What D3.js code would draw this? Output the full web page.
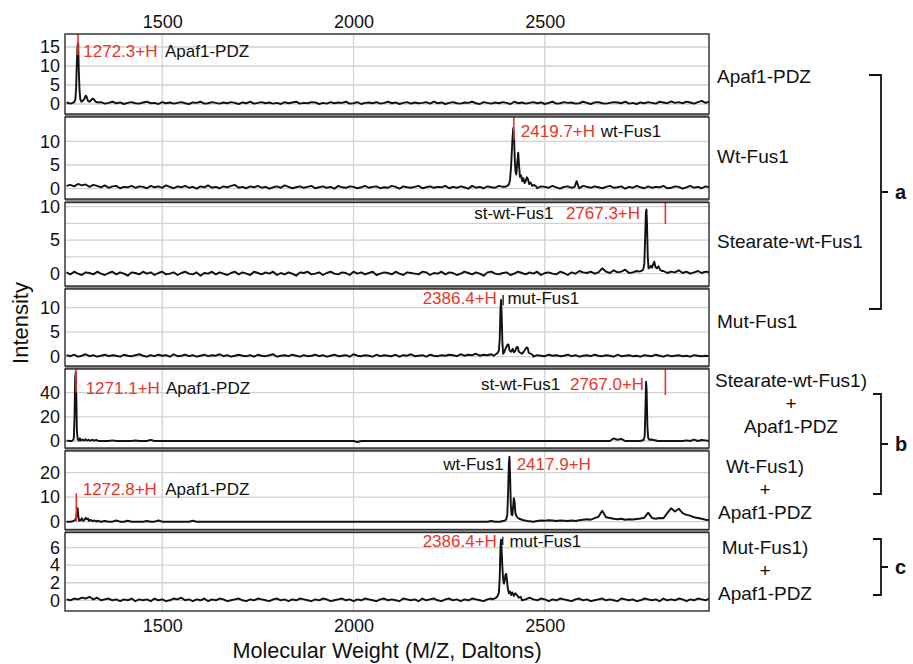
<!DOCTYPE html>
<html><head><meta charset="utf-8">
<script src="https://cdn.jsdelivr.net/npm/d3@7"></script>
<style>
body{margin:0;background:#fff;}
svg{display:block;font-family:"Liberation Sans",Arial,Helvetica,sans-serif;}
</style>
</head><body>
<svg id="c" width="913" height="664"></svg>
<script>
// ---------------- DATA ----------------
const xTicks = [1500, 2000, 2500];
const mzStart = 1250, mzStep = 10; // baseline sampling grid (Da)

const sampleLabels = [
  ["Apaf1-PDZ"], ["Wt-Fus1"], ["Stearate-wt-Fus1"], ["Mut-Fus1"],
  ["Stearate-wt-Fus1)", "+", "Apaf1-PDZ"],
  ["Wt-Fus1)", "+", "Apaf1-PDZ"],
  ["Mut-Fus1)", "+", "Apaf1-PDZ"]
];
const groupLabels = ["a", "b", "c"];

const yTickVals = [[0,5,10,15],[0,5,10],[0,5,10],[0,5,10],[0,20,40],[0,10,20],[0,2,4,6]];
const yGridVals = [[0,5,10,15],[0,5,10],[0,2.5,5,7.5,10],[0,5,10],[0,20,40],[0,10,20],[0,2,4,6]];

// baseline noise, one value per 10 Da from 1250
const noise1 = [0.4,0.1,0.5,0.2,0.6,0.3,0.1,0.4,0.2,0.5,0.1,0.3,0.6,0.2,0.4,0.0,0.3,0.5,0.2,0.1,0.4,0.6,0.2,0.3,0.0,0.5,0.2,0.4,0.1,0.3,0.5,0.2,0.0,0.4,0.3,0.6,0.1,0.2,0.5,0.3,0.1,0.4,0.2,0.5,0.3,0.0,0.4,0.2,0.6,0.1,0.3,0.5,0.2,0.4,0.1,0.3,0.0,0.5,0.2,0.4,0.6,0.1,0.3,0.2,0.5,0.4,0.0,0.3,0.1,0.5,0.2,0.4,0.3,0.6,0.1,0.2,0.5,0.0,0.3,0.4,0.2,0.5,0.1,0.3,0.6,0.2,0.4,0.0,0.3,0.5,0.1,0.4,0.2,0.3,0.5,0.1,0.6,0.2,0.4,0.0,0.3,0.5,0.2,0.1,0.4,0.3,0.6,0.2,0.0,0.5,0.3,0.1,0.4,0.2,0.5,0.3,0.0,0.6,0.2,0.4,0.1,0.3,0.5,0.2,0.4,0.0,0.3,0.6,0.1,0.2,0.5,0.3,0.4,0.1,0.2,0.6,0.3,0.0,0.4,0.5,0.2,0.1,0.3,0.5,0.4,0.2,0.6,0.1,0.3,0.0,0.4,0.2,0.5,0.3,0.1,0.6,0.4,0.2,0.7,0.3,0.5,0.2,0.6,0.4,0.1,0.5,0.8,0.3,0.6];
const noise2 = [0.6,0.8,0.5,1.0,0.7,0.9,0.4,0.8,0.6,0.3,0.7,0.2,0.5,0.6,0.1,0.4,0.3,0.6,0.2,0.5,0.4,0.1,0.6,0.3,0.5,0.2,0.7,0.4,0.1,0.5,0.3,0.6,0.2,0.4,0.0,0.5,0.3,0.7,0.2,0.4,0.1,0.5,0.3,0.6,0.8,0.2,0.4,0.1,0.5,0.3,0.6,0.2,0.4,0.0,0.3,0.5,0.2,0.7,0.4,0.1,0.3,0.5,0.2,0.4,0.6,0.1,0.3,0.5,0.2,0.4,0.0,0.6,0.3,0.2,0.5,0.4,0.1,0.3,0.6,0.2,0.4,0.5,0.1,0.3,0.2,0.6,0.4,0.0,0.5,0.3,0.2,0.4,0.6,0.1,0.3,0.5,0.2,0.4,0.3,0.6,0.1,0.4,0.2,0.5,0.3,0.0,0.6,0.2,0.4,0.1,0.5,0.3,0.2,0.6,0.4,0.1,0.3,0.5,0.2,0.4,0.6,0.2,0.3,0.1,0.5,0.4,0.2,0.6,0.3,0.0,0.4,0.5,0.2,0.3,0.1,0.6,0.4,0.2,0.5,0.3,0.1,0.4,0.6,0.2,0.3,0.5,0.0,0.4,0.2,0.6,0.3,0.1,0.5,0.2,0.4,0.3,0.6,0.1,0.2,0.5,0.4,0.0,0.3,0.6,0.2,0.4,0.1,0.5,0.3];
const noise3 = [0.2,-0.1,0.3,0.0,-0.2,0.2,0.1,-0.1,0.3,0.0,-0.2,0.1,0.3,-0.1,0.2,0.0,-0.3,0.2,0.1,-0.1,0.3,0.0,0.2,-0.2,0.1,0.3,-0.1,0.0,0.2,-0.2,0.1,0.3,0.0,-0.1,0.2,-0.3,0.1,0.0,0.3,-0.1,0.2,0.0,-0.2,0.1,0.3,-0.1,0.2,0.0,-0.2,0.3,0.1,-0.1,0.2,0.0,0.3,-0.2,0.1,-0.1,0.2,0.0,-0.3,0.2,0.1,0.3,-0.1,0.0,0.2,-0.2,0.1,0.3,0.0,-0.1,0.2,0.1,-0.2,0.3,0.0,0.2,-0.1,0.1,0.3,-0.2,0.0,0.2,0.1,-0.1,0.3,0.0,-0.2,0.2,0.1,0.0,-0.1,0.3,0.2,-0.2,0.1,0.0,0.3,-0.1,0.2,0.1,-0.2,0.0,0.3,0.1,-0.1,0.2,0.0,-0.3,0.2,0.3,0.0,-0.1,0.1,0.2,-0.2,0.0,0.3,0.1,-0.1,0.2,0.0,0.3,-0.2,0.1,0.2,0.0,-0.1,0.3,0.1,-0.2,0.2,0.0,0.4,0.2,0.1,0.3,0.0,0.2,0.8,0.3,0.1,0.5,0.2,0.3,0.6,0.1,0.2,0.4,0.3,0.2,0.5,0.1,0.3,0.2,0.4,0.1,0.3,0.2,0.5,0.1,0.3,0.0,0.2,0.4,0.1,0.3,0.2];
const noise4 = [0.3,0.1,0.4,0.0,0.2,0.5,0.1,0.3,0.0,0.2,0.4,0.1,0.3,0.2,0.0,0.4,0.2,0.1,0.3,0.5,0.2,0.0,0.3,0.1,0.4,0.2,0.3,0.0,0.5,0.1,0.2,0.4,0.1,0.3,0.0,0.2,0.4,0.1,0.3,0.2,0.5,0.1,0.3,0.0,0.2,0.4,0.2,0.1,0.3,0.0,0.4,0.2,0.1,0.3,0.5,0.0,0.2,0.3,0.1,0.4,0.2,0.0,0.3,0.1,0.2,0.4,0.1,0.3,0.0,0.2,0.4,0.1,0.2,0.3,0.0,0.5,0.2,0.1,0.3,0.2,0.0,0.4,0.1,0.3,0.2,0.1,0.4,0.0,0.3,0.2,0.5,0.1,0.2,0.3,0.0,0.4,0.2,0.1,0.3,0.2,0.4,0.3,0.1,0.5,0.2,0.4,0.3,0.6,0.2,0.4,0.3,0.5,0.2,0.4,0.1,0.3,0.2,0.5,0.1,0.3,0.2,0.4,0.0,0.3,0.2,0.1,0.4,0.2,0.3,0.1,0.2,0.4,0.1,0.3,0.0,0.2,0.3,0.1,0.4,0.2,0.1,0.3,0.2,0.0,0.4,0.1,0.2,0.3,0.1,0.2,0.0,0.3,0.2,0.1,0.4,0.2,0.0,0.3,0.1,0.2,0.3,0.1,0.2,0.0,0.3,0.2,0.1,0.2,0.1];
const noise5 = [0.3,0,0,0.5,0,0,0,0.3,0,0,0,0,0.5,0,0,0,0,0,0.4,0,0,0,1.0,0,0,0,0,0,0,0,0,0,0,0,0,0,0,0,0,0,0,0,0,0,0,0,0,0,0,0,0,0,0,0,0,0,0,0,0,0,0,0,0,0,0,0,0,0,0,0,0,0,0,0,0,0,-0.8,0,0,0,0,0,0,0,0,0,0,0,0,0,0,0,0,0,0,0,0,0,0,0,0,0,0,0,0,0,0,0,0,0,0,0,0,0,0,0,0,0,0,0,0,0,0,0,0,0,0,0,0,0,0,0,0,0,0,0,0,0,0,0,0,0,0,2.2,1.0,1.8,0,0,0,0,0,0,0,0,0,0,0,0,0,0,0,0,0.5,0,1.2,0,0.8,0.5,0,0,0];
const noise6 = [0,0,0,0,0,0,0,0,0.4,0,0.3,0,0,0.5,0,0,0.4,0,0,0,0,0.3,0,0,0.5,0,0,0,0,0,0,0,0,0.4,0,0,0,0,0,0,0,0,0,0,0,0,0,0,0,0,0,0,0,0,0,0,0,0,0,0,0,0,0,0,0,0,0,0,0,0,0,0,0,0,0,0,0,0,0,0,0,0,0,0,0,0,0,0,0,0,0,0,0,0,0,0,0,0,0,0,0,0,0,0,0,0,0,0,0,0,0,0.3,0,0,0,0,0,0,0,0,0,0,0,0.3,0.5,0.4,0.6,0.5,0.3,0.5,0.4,0.3,0.5,0.3,0.6,0.8,1.0,0.8,1.5,2.0,4.5,1.8,1.5,1.2,1.0,1.2,0.8,1.0,0.9,1.1,1.3,1.6,3.7,1.5,1.2,1.5,1.4,3.5,5.5,4.2,5.3,3.5,2.8,2.5,1.8,1.5,1.2,0.8,0.6];
const noise7 = [0.1,0.0,0.2,0.1,0.3,0.2,0.4,0.1,0.3,0.0,0.1,0.2,0.0,0.1,-0.1,0.1,0.0,0.2,-0.1,0.1,0.0,0.1,-0.1,0.2,0.0,0.1,-0.1,0.0,0.2,0.1,0.3,0.0,0.1,-0.1,0.1,0.0,0.2,-0.1,0.1,0.0,0.2,0.1,-0.1,0.0,0.1,0.2,0.0,-0.1,0.1,0.0,0.2,0.1,0.0,-0.1,0.1,0.2,0.0,0.1,-0.1,0.1,0.0,0.2,0.1,0.0,-0.1,0.1,0.0,0.2,0.1,-0.1,0.0,0.1,0.2,0.0,0.1,-0.1,0.1,0.0,0.2,0.1,0.0,-0.1,0.1,0.2,0.0,0.1,0.0,-0.1,0.2,0.1,0.0,0.1,-0.1,0.2,0.0,0.1,0.2,0.0,-0.1,0.1,0.2,0.0,0.1,-0.1,0.1,0.0,0.2,0.1,0.0,-0.1,0.1,0.2,0.0,0.1,0.2,0.0,0.1,-0.1,0.2,0.0,0.1,0.3,0.1,0.0,0.2,0.1,-0.1,0.1,0.0,0.2,0.1,0.0,-0.1,0.1,0.2,0.0,0.1,-0.1,0.0,0.1,0.2,0.0,0.1,0.0,-0.1,0.2,0.1,0.0,0.1,-0.1,0.0,0.2,0.1,0.0,0.1,-0.1,0.2,0.0,0.1,0.0,0.2,0.1,-0.1,0.1,0.0,0.2,0.1,0.0,0.2];

// peak clusters [m/z, intensity]
const peaks1 = [
  [[1266,0.3],[1270,0.5],[1273,1.2],[1275,4],[1277,11],[1279,15.5],[1280.5,16],[1282,9],[1284,3.5],[1286,1.2],[1289,0.6],[1293,0.9],[1297,1.4],[1300,2.2],[1303,1.8],[1306,0.8],[1310,0.6],[1314,1.0],[1318,1.4],[1322,1.2],[1326,0.6],[1331,0.4]]
];
const peaks2 = [
  [[2396,0.4],[2402,0.6],[2406,0.9],[2409,1.8],[2412,5],[2415,10],[2417.5,12.8],[2419.5,11],[2421.5,6],[2423.5,3.5],[2425.5,3.0],[2428,5.5],[2430.5,7.6],[2432.5,5],[2435,2.5],[2438,2.8],[2441,1.6],[2444,2.2],[2447,1.2],[2450,1.6],[2453,2.4],[2456,2.0],[2459,1.0],[2463,1.3],[2467,0.6],[2472,0.8],[2477,0.5]],
  [[2578,0.4],[2583,1.6],[2588,0.4]]
];
const peaks3 = [
  [[2745,0.3],[2752,0.4],[2757,0.6],[2760,1.5],[2762,5],[2764,9.2],[2765.5,9.6],[2767,7.5],[2769,2.5],[2771,0.8],[2774,0.9],[2777,1.2],[2780,0.9],[2783,1.4],[2786,1.8],[2789,1.0],[2793,0.8],[2797,1.1],[2801,0.6],[2806,0.4]]
];
const peaks4 = [
  [[2366,0.2],[2372,0.5],[2377,0.8],[2380,1.3],[2382,3.5],[2384,9.5],[2385.5,11.6],[2387,9],[2389,3],[2391,0.6],[2394,0.9],[2398,1.8],[2402,2.4],[2405,2.5],[2408,1.2],[2412,1.0],[2416,1.6],[2419,0.9],[2422,1.1],[2426,1.9],[2429,2.0],[2432,1.0],[2436,0.8],[2440,0.6],[2444,0.9],[2448,1.4],[2452,1.9],[2455,1.8],[2458,0.8],[2463,0.6],[2468,0.4]]
];
const peaks5 = [
  [[1262,0],[1266,0.3],[1269,2],[1271,20],[1272.5,52],[1274,57],[1275.5,38],[1277,9],[1279,1.5],[1282,0.3],[1285,2.2],[1288,0.4],[1292,1.2],[1296,0.3],[1300,1.4],[1304,0.3],[1308,1.0],[1312,0.2],[1318,1.1],[1322,0.2],[1328,0.9],[1333,0]],
  [[2748,0],[2754,0.4],[2758,0.8],[2761,4],[2763,28],[2764.5,49],[2766,42],[2768,12],[2770,2.5],[2773,1.0],[2778,1.2],[2784,0.8],[2790,0.4],[2796,0]]
];
const peaks6 = [
  [[1262,0],[1268,0.3],[1272,0.6],[1275,1.5],[1277,4],[1279,5.5],[1281,2],[1283,0.4],[1287,0.6],[1290,1.4],[1293,0.3],[1297,0.8],[1300,1.6],[1303,1.0],[1306,1.3],[1309,0.3],[1313,0.8],[1318,0.2],[1323,0.5],[1328,0]],
  [[2383,0],[2390,0.3],[2395,0.4],[2399,0.9],[2402,3],[2404,12],[2406,24],[2407.5,26.5],[2409,20],[2411,7],[2413,3],[2415,2.6],[2417,6],[2419,9.6],[2421,8],[2423,3.5],[2426,2.2],[2429,1.6],[2433,1.2],[2437,1.0],[2442,0.7],[2448,0.5],[2455,0.3],[2462,0.2],[2468,0]]
];
const peaks7 = [
  [[2362,0.1],[2368,0.2],[2373,0.3],[2377,0.5],[2380,0.9],[2382,2.5],[2384,6.0],[2385.5,6.9],[2387,5.8],[2389,3.8],[2391,2.4],[2393,1.9],[2395,2.2],[2397,2.9],[2399,3.0],[2401,2.3],[2403,1.4],[2406,0.8],[2409,1.0],[2412,0.6],[2415,0.9],[2419,0.5],[2423,0.8],[2427,0.6],[2432,0.3],[2437,0.4]]
];

const noises = [noise1, noise2, noise3, noise4, noise5, noise6, noise7];
const peaks  = [peaks1, peaks2, peaks3, peaks4, peaks5, peaks6, peaks7];

// peak markers: panel, m/z, intensity from, to, colour key
const markers = [
  [0, 1280, 18.4, 12.9, "r"],
  [1, 2419, 15.1, 10.3, "r"],
  [2, 2815, 10.6, 7.4, "r"],
  [3, 2391, 12.6, 10.5, "k"],
  [4, 1274.7, 59.5, 40, "r"],
  [4, 2815, 59.5, 38, "r"],
  [5, 1275.5, 11.6, 0, "r"],
  [6, 2390, 7.25, 6.3, "k"]
];
// annotations: panel, text, m/z, intensity, colour key, anchor
const annotations = [
  [0, "1272.3+H", 1293.8, 12.3, "r", "start"],
  [0, "Apaf1-PDZ", 1507.3, 12.3, "k", "start"],
  [1, "2419.7+H", 2437.3, 11.0, "r", "start"],
  [1, "wt-Fus1", 2646.3, 11.0, "k", "start"],
  [2, "st-wt-Fus1", 2315.5, 8.1, "k", "start"],
  [2, "2767.3+H", 2555, 8.1, "r", "start"],
  [3, "2386.4+H", 2374.6, 10.7, "r", "end"],
  [3, "mut-Fus1", 2402.3, 10.7, "k", "start"],
  [4, "1271.1+H", 1300, 38.8, "r", "start"],
  [4, "Apaf1-PDZ", 1509.9, 38.8, "k", "start"],
  [4, "st-wt-Fus1", 2333, 42.1, "k", "start"],
  [4, "2767.0+H", 2565.6, 42.1, "r", "start"],
  [5, "wt-Fus1", 2234.5, 21.1, "k", "start"],
  [5, "2417.9+H", 2426.3, 21.1, "r", "start"],
  [5, "1272.8+H", 1292.2, 10.9, "r", "start"],
  [5, "Apaf1-PDZ", 1508, 10.9, "k", "start"],
  [6, "2386.4+H", 2374.6, 6.05, "r", "end"],
  [6, "mut-Fus1", 2407.5, 6.05, "k", "start"]
];

// ---------------- LAYOUT ----------------
const RED = "#e8352b", INK = "#111";
const colour = k => k === "r" ? RED : INK;
const plotL = 65, plotR = 709;
const panels = [
  {top:34,    bottom:114,   dom:[-2.63, 18.42]},
  {top:117,   bottom:199,   dom:[-2.17, 15.13]},
  {top:202.5, bottom:286,   dom:[-1.84, 10.63]},
  {top:289,   bottom:366,   dom:[-1.90, 13.82]},
  {top:369,   bottom:448,   dom:[-5.79, 59.5]},
  {top:451,   bottom:529.5, dom:[-3.18, 28.86]},
  {top:532.5, bottom:611,   dom:[-1.22, 7.73]}
];
const singleBaselines = [83, 162.7, 248.3, 328.3];
const multiLayout = {4:{cx:791, y0:386.7}, 5:{cx:765, y0:473.3}, 6:{cx:765, y0:554.3}};
const brackets = [
  {top:75, bottom:309, mid:192, left:869},
  {top:394, bottom:494, mid:444, left:873},
  {top:539, bottom:595, mid:567, left:873}
];

const svg = d3.select("#c");
const x = d3.scaleLinear().domain([1246, 2929]).range([plotL, plotR]);

// separator band behind panels
svg.append("rect").attr("x", plotL).attr("y", panels[0].top)
  .attr("width", plotR - plotL).attr("height", panels[6].bottom - panels[0].top)
  .attr("fill", "#8c8c8c");

const line = (y) => d3.line().x(d => x(d[0])).y(d => y(d[1]));

panels.forEach((p, i) => {
  const y = d3.scaleLinear().domain(p.dom).range([p.bottom, p.top]);
  const g = svg.append("g");
  g.append("rect").attr("x", plotL).attr("y", p.top).attr("width", plotR - plotL)
    .attr("height", p.bottom - p.top).attr("fill", "#fff");

  const cid = "clip" + i;
  svg.append("clipPath").attr("id", cid).append("rect")
    .attr("x", plotL).attr("y", p.top).attr("width", plotR - plotL).attr("height", p.bottom - p.top);

  // grid
  g.selectAll(".hg").data(yGridVals[i]).join("line")
    .attr("x1", plotL).attr("x2", plotR).attr("y1", d => y(d)).attr("y2", d => y(d))
    .attr("stroke", "#d2d2d2").attr("stroke-width", 1.3);
  g.selectAll(".vg").data(xTicks).join("line")
    .attr("x1", d => x(d)).attr("x2", d => x(d)).attr("y1", p.top).attr("y2", p.bottom)
    .attr("stroke", "#d2d2d2").attr("stroke-width", 1.3);

  // series
  const clusters = peaks[i];
  const base = noises[i].map((v, k) => [mzStart + k * mzStep, v])
    .filter(([m]) => !clusters.some(c => m >= c[0][0] && m <= c[c.length - 1][0]));
  const pts = base.concat(...clusters).sort((a, b) => a[0] - b[0]);
  g.append("path").datum(pts).attr("clip-path", `url(#${cid})`)
    .attr("d", line(y)).attr("fill", "none").attr("stroke", INK)
    .attr("stroke-width", 1.9).attr("stroke-linejoin", "round");

  // markers
  markers.filter(m => m[0] === i).forEach(m => {
    g.append("line").attr("x1", x(m[1])).attr("x2", x(m[1]))
      .attr("y1", y(m[2])).attr("y2", y(m[3]))
      .attr("stroke", colour(m[4])).attr("stroke-width", m[4] === "r" ? 1.6 : 1.3);
  });

  // annotations
  annotations.filter(a => a[0] === i).forEach(a => {
    g.append("text").attr("x", x(a[2])).attr("y", y(a[3]))
      .attr("text-anchor", a[5]).attr("fill", colour(a[4]))
      .attr("font-size", 17).text(a[1]);
  });

  // border
  g.append("rect").attr("x", plotL).attr("y", p.top).attr("width", plotR - plotL)
    .attr("height", p.bottom - p.top).attr("fill", "none")
    .attr("stroke", "#2a2a2a").attr("stroke-width", 1.4);

  // y axis
  const ax = g.append("g").attr("transform", `translate(${plotL},0)`)
    .call(d3.axisLeft(y).tickValues(yTickVals[i]).tickSize(0).tickPadding(5).tickFormat(d3.format("d")));
  ax.select(".domain").remove();
  ax.selectAll("text").attr("font-size", 18).attr("fill", INK)
    .attr("font-family", '"Liberation Sans",Arial,sans-serif');

  // sample labels
  const lab = sampleLabels[i];
  if (lab.length === 1) {
    svg.append("text").attr("x", 717).attr("y", singleBaselines[i])
      .attr("font-size", 19).attr("fill", INK).text(lab[0]);
  } else {
    const L = multiLayout[i];
    lab.forEach((t, k) => {
      svg.append("text").attr("x", L.cx).attr("y", L.y0 + k * 23)
        .attr("text-anchor", "middle").attr("font-size", 19).attr("fill", INK).text(t);
    });
  }
});

// x axes (top and bottom)
const topAx = svg.append("g").attr("transform", `translate(0,${panels[0].top})`)
  .call(d3.axisTop(x).tickValues(xTicks).tickSize(0).tickPadding(6).tickFormat(d3.format("d")));
const botAx = svg.append("g").attr("transform", `translate(0,${panels[6].bottom})`)
  .call(d3.axisBottom(x).tickValues(xTicks).tickSize(0).tickPadding(8).tickFormat(d3.format("d")));
[topAx, botAx].forEach(a => {
  a.select(".domain").remove();
  a.selectAll("text").attr("font-size", 18).attr("fill", INK)
    .attr("font-family", '"Liberation Sans",Arial,sans-serif');
});

// axis titles
svg.append("text").attr("x", (plotL + plotR) / 2).attr("y", 658)
  .attr("text-anchor", "middle").attr("font-size", 21.6).attr("fill", INK)
  .text("Molecular Weight (M/Z, Daltons)");
svg.append("text").attr("transform", "translate(28,323) rotate(-90)")
  .attr("text-anchor", "middle").attr("font-size", 22).attr("fill", INK)
  .text("Intensity");

// brackets
brackets.forEach((b, k) => {
  const bx = 881;
  svg.append("path")
    .attr("d", `M${b.left},${b.top}H${bx}V${b.bottom}H${b.left}M${bx},${b.mid}H${bx + 7}`)
    .attr("fill", "none").attr("stroke", INK).attr("stroke-width", 1.8);
  svg.append("text").attr("x", 895).attr("y", b.mid + 7)
    .attr("font-size", 20).attr("font-weight", "bold").attr("fill", INK)
    .text(groupLabels[k]);
});
</script>
</body></html>
